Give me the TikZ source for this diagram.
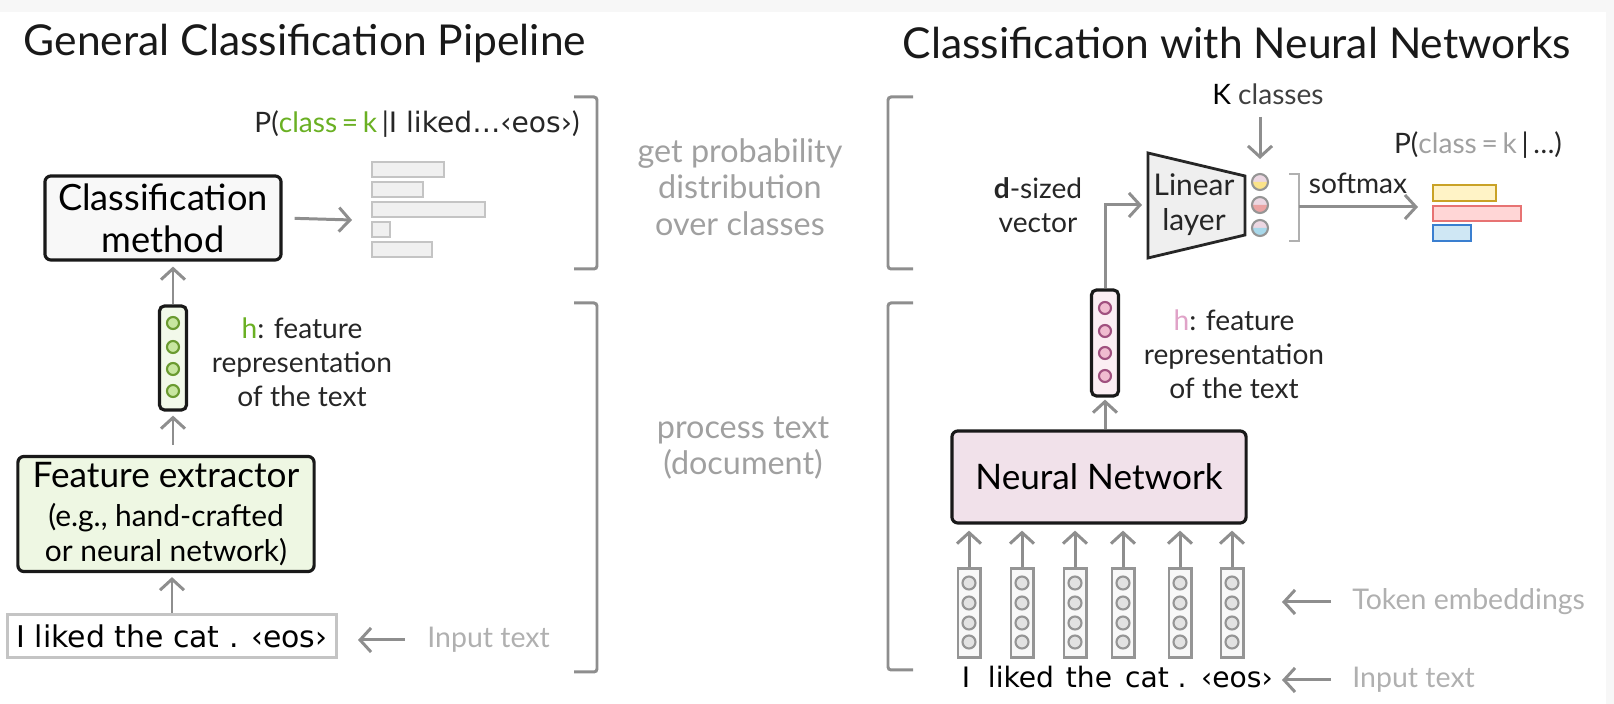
\documentclass[tikz,border=0pt]{standalone}
\usepackage{fontspec}
\setmainfont{Lato}
\newfontfamily\comicfont{DejaVu Sans}
\usepackage{xcolor}
\usetikzlibrary{arrows.meta, positioning}

\definecolor{arrowgray}{HTML}{8E8E8E}
\definecolor{notegray}{HTML}{A0A0A0}
\definecolor{lblgray}{HTML}{B0B0B0}
\definecolor{bandgray}{HTML}{F7F7F7}
\definecolor{featgreen}{HTML}{6AB023}
\definecolor{greenfill}{HTML}{EEF7E3}
\definecolor{greenvec}{HTML}{F2F9EA}
\definecolor{greendot}{HTML}{C8E6A0}
\definecolor{greenline}{HTML}{6A9A30}
\definecolor{nnpink}{HTML}{F1E1EA}
\definecolor{pinkvec}{HTML}{FBEEF3}
\definecolor{pinkdot}{HTML}{F0BCD0}
\definecolor{pinkline}{HTML}{A0507F}
\definecolor{hpink}{HTML}{E0A3C8}
\definecolor{barfill}{HTML}{F0F0F0}
\definecolor{barline}{HTML}{C4C4C4}
\definecolor{boxgray}{HTML}{F8F8F8}
\definecolor{linfill}{HTML}{EFEFEF}
\definecolor{embfill}{HTML}{F8F8F8}
\definecolor{embline}{HTML}{959595}
\definecolor{embdot}{HTML}{E2E2E2}
\definecolor{toppink}{HTML}{ECD7E2}
\definecolor{yellowdot}{HTML}{FBE38A}
\definecolor{reddot}{HTML}{EBA3A3}
\definecolor{bluedot}{HTML}{A8D8EA}
\definecolor{yellowbar}{HTML}{FFF3C6}
\definecolor{yellowline}{HTML}{C9A227}
\definecolor{redbar}{HTML}{FFD6D6}
\definecolor{redline}{HTML}{E77373}
\definecolor{bluebar}{HTML}{CFE7F4}
\definecolor{blueline}{HTML}{3A7FD0}

\begin{document}
\begin{tikzpicture}[x=0.01cm, y=-0.01cm,
        heading/.style={font=\fontsize{12.1}{14}\selectfont, text=black!90},
        arr/.style={draw=arrowgray, line width=0.85pt, -{Straight Barb[length=1.1mm, width=2.4mm]}},
        brace/.style={draw=arrowgray, line width=0.85pt, rounded corners=0.3mm},
        blockbox/.style={draw=black!90, line width=0.9pt, rounded corners=0.6mm, align=center, inner sep=0pt},
        vecbox/.style={draw=black!90, line width=0.9pt, rounded corners=0.5mm, inner sep=0pt, minimum width=0.27cm},
        embbox/.style={draw=embline, line width=0.85pt, fill=embfill, inner sep=0pt, minimum width=0.22cm, minimum height=0.88cm},
        note/.style={text=notegray, align=center, font=\fontsize{9.2}{10.4}\selectfont},
        lbl/.style={text=lblgray, font=\fontsize{8.1}{10}\selectfont, anchor=west},
        desc/.style={text=black!85, align=center, font=\fontsize{8}{9.7}\selectfont},
        tok/.style={font=\comicfont\fontsize{8.5}{10}\selectfont},
    ]
    \useasboundingbox (0,0) rectangle (1614,704);
    % Light bands at the edges
    \fill[bandgray] (0,0) rectangle (1614,12);
    \fill[bandgray] (1606,0) rectangle (1614,704);

    % Titles
    \node[heading] (lefttitle) at (305,43) {General Classification Pipeline};
    \node[heading] (righttitle) at (1237,43) {Classification with Neural Networks};

    % ---------------- General pipeline ----------------
    \node[desc, font=\fontsize{8}{10}\selectfont] (probleft) at (417,124)
        {P({\color{featgreen}class\,=\,k}\,|{\comicfont I liked…‹eos›})};
    \node[blockbox, fill=boxgray, minimum width=2.36cm, minimum height=0.84cm,
          font=\fontsize{10.3}{12}\selectfont] (clsbox) at (163,218) {Classification\\method};
    % Probability bars
    \foreach \y/\w in {162/72, 182/51, 202/113, 222/18, 242/60}
        \draw[draw=barline, fill=barfill, line width=0.7pt] (372,\y) rectangle ++(\w,15);
    \coordinate (bars) at (352,220);
    \draw[arr, shorten <=1.2mm] (clsbox.east) -- (bars);

    % h vector (green)
    \node[vecbox, fill=greenvec, minimum height=1.04cm] (hleft) at (173,358) {};
    \foreach \y in {323,347,369,391}
        \draw[draw=greenline, fill=greendot, line width=0.6pt] (173,\y) circle[radius=6];
    \draw[arr, shorten >=0.5mm] (hleft.north) -- (hleft.north |- clsbox.south);
    \node[desc] (hlefttext) at (302,362)
        {{\color{featgreen}h}: feature\\representation\\of the text};

    % Feature extractor
    \node[blockbox, fill=greenfill, minimum width=2.96cm, minimum height=1.15cm,
          font=\fontsize{8.5}{10}\selectfont] (featbox) at (166,514)
        {{\fontsize{10}{12}\selectfont Feature extractor}\\[1pt]
         (e.g., hand-crafted\\or neural network)};
    \draw[arr, shorten <=1mm, shorten >=0.4mm] (hleft.south |- featbox.north) -- (hleft.south);

    % Input text
    \node[draw=barline, line width=0.8pt, minimum width=3.29cm, minimum height=0.43cm, inner sep=0pt,
          tok] (inbox) at (172,636) {I liked the cat . ‹eos›};
    \draw[arr, shorten >=0.4mm] (inbox.north) -- (inbox.north |- featbox.south);
    \node[lbl] (inlbl) at (415,640) {Input text};
    \draw[arr, shorten <=1mm, shorten >=2mm] (inlbl.west) -- (inbox.east |- inlbl.west);

    % Brackets (left side)
    \draw[brace] (574,97) -- (597,97) -- (597,269) -- (574,269);
    \draw[brace] (574,303) -- (597,303) -- (597,672) -- (574,672);

    % Middle notes
    \node[note] (probnote) at (740,187) {get probability\\distribution\\over classes};
    \node[note] (procnote) at (743,448) {process text\\(document)};

    % Brackets (right side)
    \draw[brace] (913,97) -- (888,97) -- (888,269) -- (913,269);
    \draw[brace] (913,303) -- (888,303) -- (888,670) -- (913,670);

    % ---------------- Neural network ----------------
    % Token embeddings
    \foreach \x [count=\i] in {969,1022,1075,1123,1180,1232} {
        \node[embbox] (emb\i) at (\x,613) {};
        \foreach \y in {583,603,623,642}
            \draw[draw=embline, fill=embdot, line width=0.6pt] (\x,\y) circle[radius=6.5];
    }
    % Tokens
    \node[tok, anchor=base, font=\comicfont\fontsize{8}{10}\selectfont] (tok1) at (966,688) {I};
    \node[tok, anchor=base, font=\comicfont\fontsize{8}{10}\selectfont] (tok2) at (1021,688) {liked};
    \node[tok, anchor=base, font=\comicfont\fontsize{8}{10}\selectfont] (tok3) at (1089,688) {the};
    \node[tok, anchor=base, font=\comicfont\fontsize{8}{10}\selectfont] (tok4) at (1147,688) {cat};
    \node[tok, anchor=base, font=\comicfont\fontsize{8}{10}\selectfont] (tok5) at (1182,688) {.};
    \node[tok, anchor=base, font=\comicfont\fontsize{8}{10}\selectfont] (tok6) at (1237,688) {‹eos›};

    % Neural Network box
    \node[blockbox, fill=nnpink, minimum width=2.94cm, minimum height=0.92cm,
          font=\fontsize{10}{12}\selectfont] (nnbox) at (1099,477) {Neural Network};
    \foreach \i in {1,...,6}
        \draw[arr, shorten >=0.6mm] (emb\i.north) -- (emb\i.north |- nnbox.south);

    % h vector (pink)
    \node[vecbox, fill=pinkvec, minimum height=1.06cm] (hright) at (1105,343) {};
    \foreach \y in {308,331,353,376}
        \draw[draw=pinkline, fill=pinkdot, line width=0.6pt] (1105,\y) circle[radius=6];
    \draw[arr, shorten >=0.2mm] (hright.south |- nnbox.north) -- (hright.south);
    \node[desc] (hrighttext) at (1234,354)
        {{\color{hpink}h}: feature\\representation\\of the text};

    % Labels on the right
    \node[lbl] (emblbl) at (1340,602) {Token embeddings};
    \node[lbl] (toklbl) at (1340,680) {Input text};
    \coordinate (embend) at (1282,602);
    \coordinate (tokend) at (1282,680);
    \draw[arr, shorten <=0.9mm] (emblbl.west) -- (embend);
    \draw[arr, shorten <=0.9mm] (toklbl.west) -- (tokend);

    % Linear layer
    \draw[draw=black!85, fill=linfill, line width=0.8pt]
        (1148,153) -- (1245,176) -- (1245,235) -- (1148,258) -- cycle;
    \coordinate (linin) at (1148,205);
    \node[desc, font=\fontsize{8.5}{10}\selectfont] (lintext) at (1194,205) {Linear\\layer};
    \draw[arr, shorten >=0.6mm] (hright.north) |- (linin);
    \node[desc] (dtext) at (1038,205) {\textbf{d}-sized\\vector};

    % Logits
    \foreach \y/\c [count=\i] in {182/yellowdot, 205/reddot, 228/bluedot} {
        \coordinate (logit\i) at (1260,\y);
        \fill[toppink] (1252,\y) arc[start angle=180, end angle=360, radius=8] -- cycle;
        \fill[\c] (1252,\y) arc[start angle=180, end angle=0, radius=8] -- cycle;
        \draw[draw=embline, line width=0.6pt] (1260,\y) circle[radius=8];
    }
    \node[desc, anchor=center] (kcls) at (1268,94) {\color{black}K \color{black!75}classes};
    \draw[arr] (logit1 |- kcls.south) -- ([yshift=2.3mm]logit1);

    % Softmax
    \draw[draw=lblgray, line width=0.8pt] (1289,174) -- (1299,174) -- (1299,241) -- (1289,241);
    \coordinate (smax) at (1299,207);
    \coordinate (outbars) at (1418,207);
    \draw[arr] (smax) -- (outbars);
    \node[desc] (smaxtext) at (1358,183) {softmax};
    \node[desc] (probright) at (1478,145) {P({\color{notegray}class\,=\,k}\,|\,…)};
    % Output bars
    \draw[draw=yellowline, fill=yellowbar, line width=0.8pt] (1433,185) rectangle (1496,201);
    \draw[draw=redline, fill=redbar, line width=0.8pt] (1433,206) rectangle (1521,221);
    \draw[draw=blueline, fill=bluebar, line width=0.8pt] (1433,225) rectangle (1471,241);
\end{tikzpicture}
\end{document}
